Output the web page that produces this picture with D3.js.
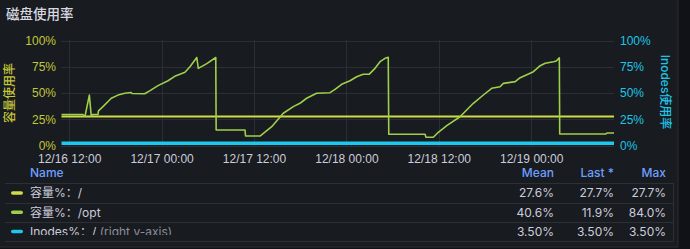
<!DOCTYPE html>
<html>
  <head>
    <meta charset="utf-8">
    <title>磁盘使用率</title>
    <script src="https://d3js.org/d3.v7.min.js"></script>
    <style>
      body { margin: 0; background: #111217; }
      svg { display: block; font-family: Inter, "Noto Sans CJK SC", sans-serif; }
    </style>
  </head>
  <body>
    <svg id="chart" width="690" height="249"></svg>
    <script>
      // data (percent values, local time)
      const rootTimes = ["2023-12-16 11:00", "2023-12-19 10:45"];
      const rootValues = [27.7, 27.7];
      const optTimes = [
        "2023-12-16 11:00", "2023-12-16 13:47", "2023-12-16 14:03", "2023-12-16 14:37", "2023-12-16 14:52",
        "2023-12-16 15:02", "2023-12-16 15:44", "2023-12-16 15:48", "2023-12-16 16:23", "2023-12-16 17:28",
        "2023-12-16 18:20", "2023-12-16 19:13", "2023-12-16 20:02", "2023-12-16 20:10", "2023-12-16 21:48",
        "2023-12-16 22:27", "2023-12-16 23:32", "2023-12-17 00:50", "2023-12-17 01:42", "2023-12-17 02:23",
        "2023-12-17 03:02", "2023-12-17 03:41", "2023-12-17 04:34", "2023-12-17 04:46", "2023-12-17 05:52",
        "2023-12-17 07:02", "2023-12-17 07:05", "2023-12-17 10:50", "2023-12-17 10:54", "2023-12-17 12:47",
        "2023-12-17 13:13", "2023-12-17 14:18", "2023-12-17 15:48", "2023-12-17 17:06", "2023-12-17 17:58",
        "2023-12-17 18:50", "2023-12-17 20:08", "2023-12-17 21:52", "2023-12-17 22:31", "2023-12-17 23:23",
        "2023-12-18 00:28", "2023-12-18 01:20", "2023-12-18 02:11", "2023-12-18 02:56", "2023-12-18 03:43",
        "2023-12-18 04:22", "2023-12-18 05:01", "2023-12-18 05:26", "2023-12-18 05:30", "2023-12-18 10:13",
        "2023-12-18 10:20", "2023-12-18 11:17", "2023-12-18 11:56", "2023-12-18 13:02", "2023-12-18 14:45",
        "2023-12-18 16:29", "2023-12-18 17:47", "2023-12-18 18:52", "2023-12-18 19:57", "2023-12-18 20:23",
        "2023-12-18 21:55", "2023-12-18 22:34", "2023-12-19 00:17", "2023-12-19 01:10", "2023-12-19 01:49",
        "2023-12-19 02:54", "2023-12-19 03:15", "2023-12-19 03:39", "2023-12-19 03:42", "2023-12-19 09:42",
        "2023-12-19 09:50", "2023-12-19 10:45"
      ];
      const optValues = [
        29.5, 29.5, 27.7, 48, 27.7,
        29.5, 29.5, 33, 37, 45,
        48, 49.7, 50.5, 49.5, 49.3,
        52, 57, 61.7, 65.9, 67.8,
        69.7, 75, 83.8, 73.5, 78,
        83.8, 14.8, 14.8, 9, 9,
        11.6, 17.9, 30.7, 37, 40.2,
        45, 49.7, 50.3, 53.5, 58.3,
        61.7, 65.5, 67.8, 67.8, 73.5,
        79.8, 83, 84.0, 10.7, 10.7,
        7.8, 7.8, 12.6, 18.9, 27.4,
        40.2, 48.1, 54.5, 56, 59.2,
        60.8, 64.6, 70.3, 76, 78.3,
        79.8, 80.5, 83.5, 11, 11,
        11.9, 11.9
      ];
      const inodeTimes = ["2023-12-16 11:00", "2023-12-19 10:45"];
      const inodeValues = [3.5, 3.5];
      const yTicks = [0, 25, 50, 75, 100];
      const seriesNames = ["容量%：/", "容量%：/opt", "Inodes%：/"];
      const seriesColors = ["#cfdc46", "#9fd04b", "#1cc8ee"];
      const statHeaders = ["Mean", "Last *", "Max"];
      const statMean = ["27.6%", "40.6%", "3.50%"];
      const statLast = ["27.7%", "11.9%", "3.50%"];
      const statMax = ["27.7%", "84.0%", "3.50%"];

      const parse = d3.timeParse("%Y-%m-%d %H:%M");
      function pts(times, values) {
        return times.map(function(t, i) { return { t: parse(t), v: values[i] }; });
      }
      const series = [pts(rootTimes, rootValues), pts(optTimes, optValues), pts(inodeTimes, inodeValues)];

      const svg = d3.select("#chart");
      // panel
      svg.append("rect").attr("x", -1).attr("y", -1).attr("width", 679).attr("height", 248)
        .attr("fill", "#181b1f").attr("stroke", "#2a2c31");
      svg.append("text").attr("x", 6).attr("y", 19).attr("fill", "#d8d9e0")
        .style("font-size", "13.5px").style("font-weight", 500).text("磁盘使用率");
      svg.append("clipPath").attr("id", "rowClip")
        .append("rect").attr("x", 0).attr("y", 222).attr("width", 540).attr("height", 13);

      const x = d3.scaleTime()
        .domain([parse(optTimes[0]), parse(optTimes[optTimes.length - 1])])
        .range([61.5, 614]);
      const yL = d3.scaleLinear().domain([0, 100]).range([145.5, 40.5]);
      const yR = d3.scaleLinear().domain([0, 100]).range([145.5, 40.5]);
      const xTicks = x.ticks(d3.timeHour.every(12));

      // grid
      const grid = svg.append("g").attr("stroke", "#2b2e34").attr("stroke-width", 1);
      grid.selectAll(".h").data(yTicks).enter().append("line")
        .attr("x1", 61).attr("x2", 614)
        .attr("y1", function(d) { return Math.round(yL(d)) + 0.5; })
        .attr("y2", function(d) { return Math.round(yL(d)) + 0.5; });
      grid.selectAll(".v").data(xTicks).enter().append("line")
        .attr("y1", 40).attr("y2", 146)
        .attr("x1", function(d) { return Math.round(x(d)) + 0.5; })
        .attr("x2", function(d) { return Math.round(x(d)) + 0.5; });

      // axes
      const axisLeft = svg.append("g").attr("transform", "translate(61,0)")
        .call(d3.axisLeft(yL).tickValues(yTicks).tickSize(0).tickPadding(5).tickFormat(function(d) { return d + "%"; }));
      const axisRight = svg.append("g").attr("transform", "translate(614,0)")
        .call(d3.axisRight(yR).tickValues(yTicks).tickSize(0).tickPadding(6).tickFormat(function(d) { return d + "%"; }));
      const axisBottom = svg.append("g").attr("transform", "translate(0,146)")
        .call(d3.axisBottom(x).tickValues(xTicks).tickSize(0).tickPadding(8).tickFormat(d3.timeFormat("%m/%d %H:%M")));
      [axisLeft, axisRight, axisBottom].forEach(function(a) {
        a.select(".domain").remove();
        a.selectAll("text").style("font-size", "12px").attr("font-family", null);
      });
      axisLeft.selectAll("text").attr("fill", "#c3c53c");
      axisRight.selectAll("text").attr("fill", "#1fc3e6");
      axisBottom.selectAll("text").attr("fill", "#ccccdc");

      svg.append("text").attr("transform", "translate(14,93) rotate(-90)")
        .attr("text-anchor", "middle").attr("fill", "#c3c53c").style("font-size", "12px")
        .style("font-weight", 500).text("容量使用率");
      svg.append("text").attr("transform", "translate(661,92) rotate(90)")
        .attr("text-anchor", "middle").attr("fill", "#1fc3e6").style("font-size", "12px")
        .style("font-weight", 500).text("Inodes使用率");

      // lines
      const line = function(scale) {
        return d3.line().x(function(d) { return x(d.t); }).y(function(d) { return scale(d.v); });
      };
      svg.append("path").datum(series[2]).attr("d", line(yR)).attr("fill", "none")
        .attr("stroke", seriesColors[2]).attr("stroke-width", 3.5).attr("transform", "translate(0,1.5)");
      svg.append("path").datum(series[0]).attr("d", line(yL)).attr("fill", "none")
        .attr("stroke", seriesColors[0]).attr("stroke-width", 2);
      svg.append("path").datum(series[1]).attr("d", line(yL)).attr("fill", "none")
        .attr("stroke", seriesColors[1]).attr("stroke-width", 1.6).attr("stroke-linejoin", "round");

      // legend table
      const legend = svg.append("g").style("font-size", "12px");
      legend.append("text").attr("x", 30).attr("y", 177).attr("fill", "#6e9fff")
        .style("font-weight", 500).text("Name");
      const colRight = [554, 614, 666];
      statHeaders.forEach(function(h, i) {
        legend.append("text").attr("x", colRight[i]).attr("y", 177).attr("text-anchor", "end")
          .attr("fill", "#6e9fff").style("font-weight", 500).text(h);
      });
      legend.selectAll(".sep").data([183, 203, 222, 241]).enter().append("line")
        .attr("x1", 5).attr("x2", 673)
        .attr("y1", function(d) { return d + 0.5; }).attr("y2", function(d) { return d + 0.5; })
        .attr("stroke", "#2c2f35");
      legend.append("line").attr("x1", 673.5).attr("x2", 673.5).attr("y1", 183).attr("y2", 241.5)
        .attr("stroke", "#2c2f35");
      const stats = [statMean, statLast, statMax];
      seriesNames.forEach(function(name, i) {
        const cy = 193 + i * 19.2;
        legend.append("rect").attr("x", 11).attr("y", cy - 1.75).attr("width", 12).attr("height", 3.5)
          .attr("rx", 1.75).attr("fill", seriesColors[i]);
        const t = legend.append("text").attr("x", 30).attr("y", cy + 4.3).attr("fill", "#ccccdc").text(name);
        if (i === 2) {
          t.attr("clip-path", "url(#rowClip)");
          t.append("tspan").attr("fill", "#8e8e98").text(" (right y-axis)");
        }
        stats.forEach(function(col, j) {
          legend.append("text").attr("x", colRight[j]).attr("y", cy + 4.3).attr("text-anchor", "end")
            .attr("fill", "#ccccdc").text(col[i]);
        });
      });
    </script>
  </body>
</html>
